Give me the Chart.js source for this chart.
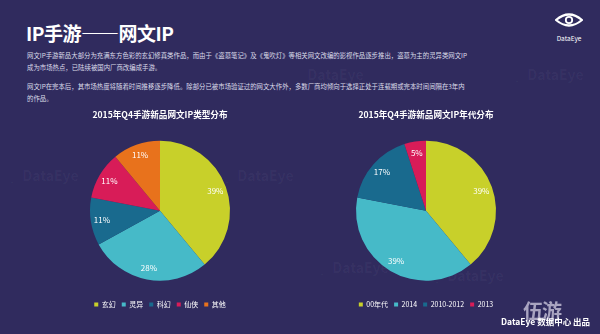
<!DOCTYPE html>
<html lang="zh">
<head>
<meta charset="UTF-8">
<title>IP手游——网文IP</title>
<script src="https://cdn.jsdelivr.net/npm/chart.js"></script>
<style>
  html, body { margin: 0; padding: 0; }
  body {
    width: 600px; height: 334px; overflow: hidden; position: relative;
    background: #302b5e;
    font-family: "Noto Sans CJK SC", "Noto Sans", sans-serif;
    color: #fff;
  }
  .abs { position: absolute; white-space: nowrap; }
  #head { left: 26px; top: 19px; font-size: 19px; font-weight: bold; letter-spacing: -0.5px; }
  .para { left: 27px; font-size: 6.4px; color: #dcdcea; }
  #logo { left: 555px; top: 8px; width: 28px; text-align: center; }
  #logo span { display: block; font-size: 6.5px; color: #fff; margin-top: 1px; }
  .wm { font-size: 14px; color: rgba(255,255,255,0.04); font-weight: bold; }
  #sign { left: 501px; top: 315px; font-size: 8.5px; font-weight: bold; }
  #wuyou { left: 523px; top: 296px; font-size: 20px; font-weight: bold; color: rgba(210,205,225,0.75); letter-spacing: -1px; }
  canvas { position: absolute; }
</style>
</head>
<body>
<div class="abs" id="head">IP手游——网文IP</div>
<div class="abs para" style="top:51px">网文IP手游新品大部分为充满东方色彩的玄幻修真类作品，而由于《盗墓笔记》及《鬼吹灯》等相关网文改编的影视作品逐步推出，盗墓为主的灵异类网文IP</div>
<div class="abs para" style="top:63px">成为市场热点，已陆续被国内厂商改编成手游。</div>
<div class="abs para" style="top:82px">网文IP在完本后，其市场热度将随着时间推移逐步降低。除部分已被市场验证过的网文大作外，多数厂商均倾向于选择正处于连载期或完本时间间隔在3年内</div>
<div class="abs para" style="top:94px">的作品。</div>

<div class="abs" id="logo">
  <svg width="28" height="14" viewBox="0 0 28 14">
    <path d="M1 7 Q14 -4 27 7 Q14 18 1 7 Z" fill="none" stroke="#fff" stroke-width="2.2"/>
    <circle cx="14" cy="7" r="3.2" fill="none" stroke="#fff" stroke-width="1.8"/>
  </svg>
  <span>DataEye</span>
</div>

<div class="abs wm" style="left:290px;top:64px">◎ DataEye</div>
<div class="abs wm" style="left:510px;top:64px">◎ DataEye</div>
<div class="abs wm" style="left:5px;top:165px">◎ DataEye</div>
<div class="abs wm" style="left:220px;top:165px">◎ DataEye</div>
<div class="abs wm" style="left:430px;top:265px">◎ DataEye</div>
<div class="abs wm" style="left:315px;top:257px">◎ DataEye</div>

<canvas id="left" width="260" height="218" style="left:30px;top:100px"></canvas>
<canvas id="right" width="260" height="218" style="left:296px;top:100px"></canvas>

<div class="abs" id="wuyou">伍游</div>
<div class="abs" id="sign">DataEye 数据中心 出品</div>

<script>
const typeLabels = ['玄幻', '灵异', '科幻', '仙侠', '其他'];
const typeValues = [39, 28, 11, 11, 11];
const typeColors = ['#c8d02a', '#46bac8', '#196a8e', '#d81c58', '#e8721c'];

const eraLabels = ['00年代', '2014', '2010-2012', '2013'];
const eraValues = [39, 39, 17, 5];
const eraColors = ['#c8d02a', '#46bac8', '#196a8e', '#d81c58'];

const FONT = '"Noto Sans CJK SC", "Noto Sans", sans-serif';

// white % labels drawn inside the slices
const pctLabels = {
    id: 'pctLabels',
    afterDatasetsDraw(chart) {
        const ctx = chart.ctx;
        const meta = chart.getDatasetMeta(0);
        const vals = chart.data.datasets[0].data;
        ctx.save();
        ctx.fillStyle = '#fff';
        ctx.font = '8px ' + FONT;
        ctx.textAlign = 'center';
        ctx.textBaseline = 'middle';
        meta.data.forEach((arc, i) => {
            const p = arc.getProps(['x', 'y', 'startAngle', 'endAngle', 'outerRadius'], true);
            const a = (p.startAngle + p.endAngle) / 2;
            const r = p.outerRadius * 0.84;
            ctx.fillText(vals[i] + '%', p.x + Math.cos(a) * r, p.y + Math.sin(a) * r);
        });
        ctx.restore();
    }
};

function makePie(id, title, labels, values, colors) {
    new Chart(document.getElementById(id), {
        type: 'pie',
        data: {labels: labels,
               datasets: [{data: values,
                           backgroundColor: colors,
                           borderWidth: 0,
                           radius: 70}]},
        options: {
            responsive: false,
            animation: false,
            layout: {padding: 0},
            plugins: {
                title: {display: true, text: title, color: '#fff',
                        font: {family: FONT, size: 8.6, weight: 'bold'},
                        padding: {top: 10, bottom: 6}},
                legend: {position: 'bottom',
                         labels: {color: '#fff', boxWidth: 4, boxHeight: 4, padding: 6,
                                  font: {family: FONT, size: 7}}},
                tooltip: {enabled: false}
            }
        },
        plugins: [pctLabels]
    });
}

makePie('left', '2015年Q4手游新品网文IP类型分布', typeLabels, typeValues, typeColors);
makePie('right', '2015年Q4手游新品网文IP年代分布', eraLabels, eraValues, eraColors);
</script>
</body>
</html>
